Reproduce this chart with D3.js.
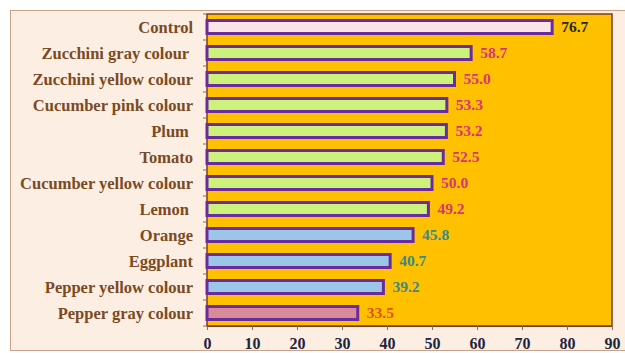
<!DOCTYPE html>
<html>
<head>
<meta charset="utf-8">
<script src="https://cdn.jsdelivr.net/npm/d3@7"></script>
<style>
  html, body { margin: 0; padding: 0; background: #ffffff; }
  svg { display: block; }
  text { font-family: "Liberation Serif", "Times New Roman", serif; font-weight: bold; }
</style>
</head>
<body>
<svg id="chart" width="625" height="353"></svg>
<script>
// Treatments, top to bottom
const categories = [
  "Control", "Zucchini gray colour ", "Zucchini yellow colour", "Cucumber pink colour",
  "Plum ", "Tomato", "Cucumber yellow colour", "Lemon ", "Orange", "Eggplant",
  "Pepper yellow colour", "Pepper gray colour"
];
const values = [76.7, 58.7, 55.0, 53.3, 53.2, 52.5, 50.0, 49.2, 45.8, 40.7, 39.2, 33.5];
const groups = ["control", "green", "green", "green", "green", "green", "green", "green",
                "blue", "blue", "blue", "rose"];
const xTicks = [0, 10, 20, 30, 40, 50, 60, 70, 80, 90];

const fillColor = { control: "#fbe4e6", green: "#ccf27c", blue: "#9cc6e8", rose: "#d98a98" };
const labelColor = { control: "#2a2a10", green: "#d8347a", blue: "#3a8a86", rose: "#e0501c" };

const svg = d3.select("#chart");
const plot = { left: 207, right: 612, top: 14, bottom: 326 };

// Outer frame
svg.append("rect")
  .attr("x", 10.5).attr("y", 10.5).attr("width", 625).attr("height", 340)
  .attr("fill", "#fdeee3").attr("stroke", "#c9a288").attr("stroke-width", 1);

const x = d3.scaleLinear().domain([0, 90]).range([plot.left, plot.right]);
const y = d3.scaleBand().domain(categories).range([plot.top, plot.bottom]).paddingInner(0.5).paddingOuter(0.25);

// Plot area
svg.append("rect")
  .attr("x", plot.left).attr("y", plot.top)
  .attr("width", plot.right - plot.left).attr("height", plot.bottom - plot.top)
  .attr("fill", "#ffc000").attr("stroke", "#7a3a2a").attr("stroke-width", 1.5);

// Bars
svg.append("g").selectAll("rect").data(values).join("rect")
  .attr("x", x(0))
  .attr("y", (d, i) => y(categories[i]))
  .attr("width", d => x(d) - x(0))
  .attr("height", y.bandwidth())
  .attr("fill", (d, i) => fillColor[groups[i]])
  .attr("stroke", "#6a2b9e").attr("stroke-width", 3);

// Value labels
svg.append("g").selectAll("text").data(values).join("text")
  .attr("x", d => x(d) + 9)
  .attr("y", (d, i) => y(categories[i]) + y.bandwidth() / 2)
  .attr("dy", "0.35em")
  .attr("font-size", 15.5)
  .attr("fill", (d, i) => labelColor[groups[i]])
  .text(d => d.toFixed(1));

// Category axis
svg.append("g").selectAll("line").data(d3.range(categories.length + 1)).join("line")
  .attr("x1", plot.left - 4).attr("x2", plot.left)
  .attr("y1", i => plot.top + i * (plot.bottom - plot.top) / categories.length)
  .attr("y2", i => plot.top + i * (plot.bottom - plot.top) / categories.length)
  .attr("stroke", "#8a6a50").attr("stroke-width", 1);

svg.append("g").selectAll("text").data(categories).join("text")
  .attr("x", 193)
  .attr("y", d => y(d) + y.bandwidth() / 2)
  .attr("dy", "0.35em")
  .attr("text-anchor", "end")
  .attr("font-size", 16.5)
  .attr("fill", "#7b4a22")
  .style("white-space", "pre")
  .text(d => d);

// Value axis
const xAxis = d3.axisBottom(x).tickValues(xTicks).tickSize(4).tickPadding(8).tickFormat(d3.format("d"));
const gx = svg.append("g").attr("transform", `translate(0,${plot.bottom})`).call(xAxis);
gx.select(".domain").attr("stroke", "#7a3a2a");
gx.selectAll(".tick line").attr("stroke", "#8a6a50");
gx.selectAll(".tick text")
  .attr("font-family", "Liberation Serif, serif").attr("font-weight", "bold")
  .attr("font-size", 16).attr("fill", "#1f2440");
</script>
</body>
</html>
